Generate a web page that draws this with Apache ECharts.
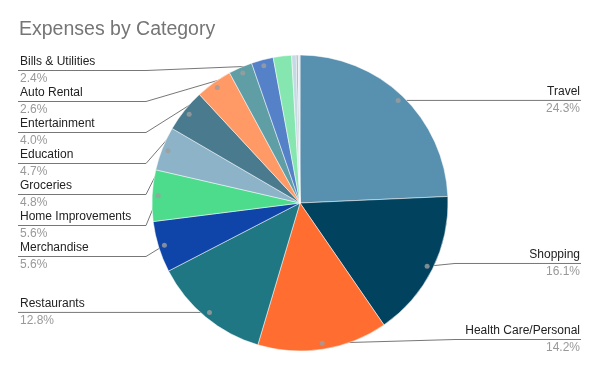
<!DOCTYPE html>
<html><head><meta charset="utf-8">
<script src="https://cdn.jsdelivr.net/npm/echarts@6/dist/echarts.min.js"></script>
<style>html,body{margin:0;padding:0;background:#fff}#c{width:600px;height:371px}</style>
</head><body><div id="c"></div>
<script>
const categories = ['Travel','Shopping','Health Care/Personal','Restaurants','Merchandise','Home Improvements','Groceries','Education','Entertainment','Auto Rental','Bills & Utilities','Other 1','Other 2','Other 3','Other 4'];
const values = [24.3,16.1,14.2,12.8,5.6,5.6,4.8,4.7,4.0,2.6,2.4,2.0,0.5,0.2,0.2];
const unlabeled = ['Other 1','Other 2','Other 3','Other 4'];
const colors = ['#5891b0','#01435f','#ff6d31','#1e7783','#0f45a8','#4cdc8c','#8db3c8','#497a8e','#ff9966','#5f9ea5','#5581c8','#86e6b0','#c5dae5','#9eabb3','#dce8ee'];

const CX = 300, CY = 203, R = 148, DOT_R = 142;
const BOX_TOP = 55, BOX_BOTTOM = 16;
const FONT = 'Arial, "Liberation Sans", sans-serif';

const total = values.reduce((a, b) => a + b, 0);
let cum = 0;
const dots = [];
values.forEach((v, i) => {
  const mid = cum + v / 2;
  cum += v;
  if (!unlabeled.includes(categories[i])) dots.push([DOT_R, mid / total * 100]);
});

const chart = echarts.init(document.getElementById('c'), null, {renderer: 'canvas'});
chart.setOption({
  animation: false,
  backgroundColor: '#fff',
  title: {
    text: 'Expenses by Category', left: 19, top: 20, padding: 0,
    textStyle: {fontFamily: FONT, fontSize: 19.5, fontWeight: 'normal', color: '#757575'}
  },
  polar: {center: [CX, CY], radius: R},
  angleAxis: {type: 'value', min: 0, max: 100, startAngle: 90, clockwise: true, show: false},
  radiusAxis: {type: 'value', min: 0, max: R, show: false},
  series: [{
    type: 'pie',
    center: [CX, CY - BOX_TOP], radius: R,
    startAngle: 90, clockwise: true,
    left: 0, right: 0, top: BOX_TOP, bottom: BOX_BOTTOM,
    avoidLabelOverlap: true,
    emphasis: {disabled: true},
    itemStyle: {borderColor: '#ffffff', borderWidth: 0.5},
    data: categories.map((n, i) => ({
      name: n, value: values[i],
      itemStyle: {color: colors[i]},
      label: {show: !unlabeled.includes(n)},
      labelLine: {show: !unlabeled.includes(n)}
    })),
    label: {
      alignTo: 'edge', edgeDistance: 20, minMargin: 2,
      formatter: p => '{n|' + p.name + '}\n{p|' + p.value.toFixed(1) + '%}',
      rich: {
        n: {fontFamily: FONT, fontSize: 12, color: '#222', lineHeight: 17},
        p: {fontFamily: FONT, fontSize: 12, color: '#999', lineHeight: 17}
      }
    },
    labelLine: {length: -6, length2: 10, lineStyle: {color: '#777', width: 1}},
    labelLayout: function (params) {
      const rect = params.labelRect;
      const pts = params.labelLinePoints;
      if (!pts) return {};
      const isLeft = rect.x + rect.width / 2 < CX;
      const midY = rect.y + rect.height / 2;
      const dx = pts[0][0] - CX, dy = pts[0][1] - CY;
      const len = Math.hypot(dx, dy) || 1;
      const start = [CX + dx / len * DOT_R, CY + dy / len * DOT_R];
      const elbowX = isLeft ? CX - R - 6 : CX + R + 7;
      const endX = isLeft ? rect.x - 2 : rect.x + rect.width + 1;
      return {labelLinePoints: [start, [elbowX, midY], [endX, midY]]};
    },
    z: 2
  }, {
    type: 'scatter',
    coordinateSystem: 'polar',
    data: dots,
    symbolSize: 5,
    itemStyle: {color: '#9e9e9e'},
    silent: true,
    z: 5
  }]
});
</script>
</body></html>
